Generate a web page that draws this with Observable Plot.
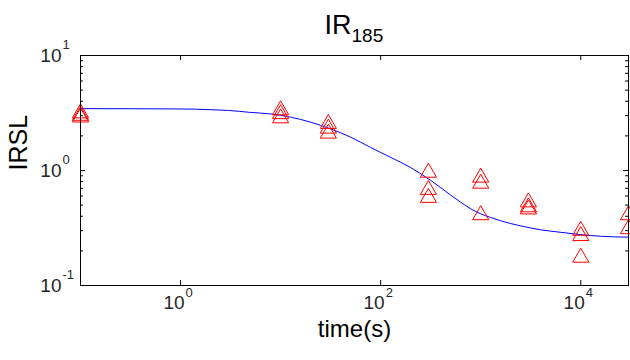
<!DOCTYPE html>
<html><head><meta charset="utf-8">
<script src="https://cdn.jsdelivr.net/npm/d3@7"></script>
<script src="https://cdn.jsdelivr.net/npm/@observablehq/plot@0.6"></script>
<style>
body{margin:0;background:#fff;}
svg{font-family:"Liberation Sans",Arial,sans-serif;}
</style></head><body>
<div id="chart"></div>
<script>
// measured IRSL (red triangles)
const measTime = [0.1,0.1,0.1, 10,10,10, 30,30,30, 300,300,300, 1000,1000,1000, 3000,3000,3000, 10000,10000,10000, 30000,30000];
const measIRSL = [3.15,3.0,2.9, 3.35,3.1,2.85, 2.55,2.32,2.1, 0.96,0.68,0.58, 0.87,0.77,0.41, 0.53,0.48,0.46, 0.30,0.27,0.175, 0.41,0.31];
// fitted curve (blue line)
const fitTime = [0.1, 1, 2, 3, 5, 8, 12.6, 20, 31.6, 50, 79, 126, 200, 316, 398, 501, 631, 794, 1000, 1259, 1585, 2512, 3981, 6310, 10000, 15850, 30000];
const fitIRSL = [3.45, 3.43, 3.38, 3.33, 3.2, 3.1, 2.91, 2.63, 2.30, 1.95, 1.59, 1.30, 1.06, 0.82, 0.71, 0.61, 0.53, 0.465, 0.42, 0.39, 0.365, 0.33, 0.305, 0.29, 0.277, 0.268, 0.263];
// axes
const xMajor = [1, 100, 10000];
const xExp = ["0", "2", "4"];
const yMajor = [0.1, 1, 10];
const yExp = ["-1", "0", "1"];
const yMinor = [0.2,0.3,0.4,0.5,0.6,0.7,0.8,0.9,2,3,4,5,6,7,8,9];
const titleMain = "IR";
const titleSub = "185";
const xLabel = "time(s)";
const yLabel = "IRSL";

const meas = measTime.map((t, i) => ({t, v: measIRSL[i]}));
const fit = fitTime.map((t, i) => ({t, v: fitIRSL[i]}));

const W = 630, H = 360, mL = 80, mR = 2, mT = 55, mB = 75;
const innerH = H - mT - mB, innerW = W - mL - mR;
const tickFont = 19, expFont = 13;

const chart = Plot.plot({
  width: W, height: H,
  marginLeft: mL, marginRight: mR, marginTop: mT, marginBottom: mB,
  x: {type: "log", domain: [0.1, 30000], axis: null},
  y: {type: "log", domain: [0.1, 10], axis: null},
  marks: [
    Plot.line(fit, {x: "t", y: "v", stroke: "#0000ff", strokeWidth: 1, curve: "monotone-x"}),
    Plot.dot(meas, {x: "t", y: "v", symbol: "triangle", r: 6, stroke: "#ff0000", strokeWidth: 1, fill: "none"}),
    // inward ticks
    Plot.ruleX(xMajor, {x: d => d, insetTop: innerH - 5, stroke: "#000"}),
    Plot.ruleX(xMajor, {x: d => d, insetBottom: innerH - 5, stroke: "#000"}),
    Plot.ruleY(yMajor, {y: d => d, insetRight: innerW - 5, stroke: "#000"}),
    Plot.ruleY(yMajor, {y: d => d, insetLeft: innerW - 5, stroke: "#000"}),
    Plot.ruleY(yMinor, {y: d => d, insetRight: innerW - 3, stroke: "#000"}),
    Plot.ruleY(yMinor, {y: d => d, insetLeft: innerW - 3, stroke: "#000"}),
    Plot.frame({stroke: "#000", strokeWidth: 1}),
    // x tick labels
    Plot.text(xMajor, {x: d => d, frameAnchor: "bottom", text: () => "10", textAnchor: "end", lineAnchor: "middle", dx: 4, dy: 17, fontSize: tickFont, fill: "#262626"}),
    Plot.text(xMajor, {x: d => d, frameAnchor: "bottom", text: (d, i) => xExp[i], textAnchor: "start", lineAnchor: "middle", dx: 5, dy: 7, fontSize: expFont, fill: "#262626"}),
    // y tick labels
    Plot.text(yMajor, {y: d => d, frameAnchor: "left", text: () => "10", textAnchor: "end", lineAnchor: "middle", dx: -19, dy: 0, fontSize: tickFont, fill: "#262626"}),
    Plot.text(yMajor, {y: d => d, frameAnchor: "left", text: (d, i) => yExp[i], textAnchor: "start", lineAnchor: "middle", dx: -18, dy: -11, fontSize: expFont, fill: "#262626"}),
    // axis labels
    Plot.text([xLabel], {frameAnchor: "bottom", text: d => d, lineAnchor: "bottom", dy: 51, fontSize: 24, fill: "#000"}),
    Plot.text([yLabel], {frameAnchor: "left", text: d => d, rotate: -90, lineAnchor: "middle", dx: -62, fontSize: 25, fill: "#000"}),
    // title
    Plot.text([titleMain], {frameAnchor: "top", text: d => d, textAnchor: "end", lineAnchor: "bottom", dx: -3, dy: -22, fontSize: 27, fill: "#000"}),
    Plot.text([titleSub], {frameAnchor: "top", text: d => d, textAnchor: "start", lineAnchor: "bottom", dx: -3, dy: -14, fontSize: 19, fill: "#000"})
  ]
});
document.getElementById("chart").appendChild(chart);
</script>
</body></html>
